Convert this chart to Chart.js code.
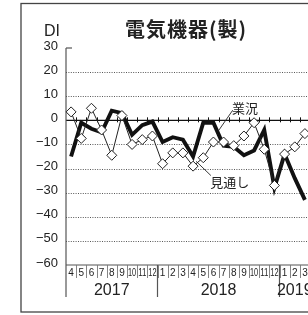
<!DOCTYPE html>
<html><head><meta charset="utf-8">
<script src="https://cdn.jsdelivr.net/npm/chart.js@4.4.1/dist/chart.umd.min.js"></script>
<style>html,body{margin:0;padding:0;overflow:hidden;background:#fff;width:308px;height:315px}canvas{display:block}</style>
</head><body>
<canvas id="c" width="320" height="315"></canvas>
<script>
const months = ['4','5','6','7','8','9','10','11','12','1','2','3','4','5','6','7','8','9','10','11','12','1','2','3'];
const yearLabels = ['2017','2018','2019'];
const yearSpans = [9,12,3];
const actual = [-15,-1,-3.5,-5,4,3,-6,-2,-0.5,-9,-7,-8,-15,-1,-1,-10.5,-11,-14.5,-12.5,-4,-28,-14,-24,-33];
const outlook = [3.5,-7.5,5,-4,-14.5,2,-10,-8,-6.5,-18,-13.5,-13.5,-19,-15.5,-9,-9,-10.5,-6.5,-1,-12,-27,-14,-11,-5.5];
const yTicks = [30,20,10,0,-10,-20,-30,-40,-50,-60];
const title = '電気機器(製)';
const unitLabel = 'DI';
const seriesNames = ['業況','見通し'];

const NUM = '"Liberation Sans", Arial, sans-serif';
const JP = '"Noto Sans CJK JP", sans-serif';

function xAt(chart, idx){
  const xs = chart.scales.x;
  const p0 = xs.getPixelForValue(0), p1 = xs.getPixelForValue(1);
  return p0 + (p1 - p0) * idx;
}

const deco = {
  id: 'deco',
  beforeDatasetsDraw(chart){
    const ctx = chart.ctx, a = chart.chartArea, ys = chart.scales.y;
    const step = xAt(chart,1) - xAt(chart,0);
    ctx.save();
    ctx.strokeStyle = '#444'; ctx.lineWidth = 0.9; ctx.setLineDash([1,1.4]);
    yTicks.forEach(v => {
      if (v === 30 || v === 0 || v === -60) return;
      const y = Math.round(ys.getPixelForValue(v)) + 0.5;
      ctx.beginPath(); ctx.moveTo(a.left, y); ctx.lineTo(a.right, y); ctx.stroke();
    });
    ctx.setLineDash([]);
    ctx.strokeStyle = '#111'; ctx.lineWidth = 1.3;
    const y0 = ys.getPixelForValue(0);
    ctx.beginPath(); ctx.moveTo(a.left, y0); ctx.lineTo(a.right, y0); ctx.stroke();
    ctx.lineWidth = 1;
    for (let k = 1; k < months.length; k++){
      const x = Math.round(a.left + step*k) + 0.5;
      ctx.beginPath(); ctx.moveTo(x, y0-3); ctx.lineTo(x, y0+2); ctx.stroke();
    }
    ctx.strokeStyle = '#555'; ctx.lineWidth = 1.2;
    const yt = ys.getPixelForValue(30);
    ctx.beginPath(); ctx.moveTo(a.left, yt); ctx.lineTo(a.left+6, yt); ctx.stroke();
    const yb = ys.getPixelForValue(-60);
    ctx.beginPath(); ctx.moveTo(a.left, yb); ctx.lineTo(a.right, yb); ctx.stroke();
    ctx.beginPath(); ctx.moveTo(a.left, yt); ctx.lineTo(a.left, yb+32); ctx.stroke();
    ctx.strokeStyle = '#777'; ctx.lineWidth = 0.9;
    for (let k = 1; k < months.length; k++){
      const x = Math.round(a.left + step*k) + 0.5;
      ctx.beginPath(); ctx.moveTo(x, yb); ctx.lineTo(x, yb+13); ctx.stroke();
    }
    ctx.strokeStyle = '#555'; ctx.lineWidth = 1.2;
    let acc = 0;
    yearSpans.forEach((n,i) => {
      acc += n;
      const x = a.left + step*acc;
      ctx.beginPath(); ctx.moveTo(x, yb); ctx.lineTo(x, yb+32); ctx.stroke();
    });
    ctx.fillStyle = '#222'; ctx.textAlign = 'center'; ctx.textBaseline = 'middle';
    ctx.font = '10px ' + NUM;
    months.forEach((m,k) => {
      const cx = xAt(chart,k);
      const w = ctx.measureText(m).width;
      const maxW = step - 2;
      ctx.save(); ctx.translate(cx, yb+8);
      if (w > maxW) ctx.scale(maxW/w, 1);
      ctx.fillText(m, 0, 0); ctx.restore();
    });
    ctx.font = '16px ' + NUM;
    acc = 0;
    yearSpans.forEach((n,i) => {
      const cx = a.left + step*(acc + n/2);
      ctx.fillText(yearLabels[i], cx, yb+26);
      acc += n;
    });
    ctx.textAlign = 'right'; ctx.font = '13px ' + NUM;
    yTicks.forEach(v => {
      const lbl = v < 0 ? '\u2212' + Math.abs(v) : String(v);
      ctx.fillText(lbl, 58, ys.getPixelForValue(v) - 2);
    });
    ctx.restore();
  },
  afterDraw(chart){
    const ctx = chart.ctx, ys = chart.scales.y;
    ctx.save();
    ctx.strokeStyle = '#444'; ctx.lineWidth = 1.3;
    ctx.strokeRect(21, 3.5, 300, 308.5);
    ctx.fillStyle = '#222'; ctx.textAlign = 'center'; ctx.textBaseline = 'alphabetic';
    ctx.font = 'bold 20px ' + JP;
    try { ctx.letterSpacing = '1px'; } catch(e) {}
    ctx.fillText(title, 186, 37);
    try { ctx.letterSpacing = '0px'; } catch(e) {}
    ctx.textAlign = 'left'; ctx.font = '16px ' + NUM;
    ctx.fillText(unitLabel, 44, 36);
    ctx.font = '13px ' + JP; ctx.textAlign = 'center'; ctx.textBaseline = 'middle';
    ctx.fillText(seriesNames[0], xAt(chart,17.1), ys.getPixelForValue(5));
    ctx.fillText(seriesNames[1], xAt(chart,15.6), ys.getPixelForValue(-25.8));
    ctx.strokeStyle = '#222'; ctx.lineWidth = 0.9;
    ctx.beginPath();
    ctx.moveTo(xAt(chart,15.9), ys.getPixelForValue(4.2));
    ctx.lineTo(xAt(chart,14.45), ys.getPixelForValue(-4.6));
    ctx.moveTo(xAt(chart,13.75), ys.getPixelForValue(-22.9));
    ctx.lineTo(xAt(chart,12.3), ys.getPixelForValue(-17));
    ctx.stroke();
    ctx.restore();
  }
};

new Chart(document.getElementById('c'), {
  type: 'line',
  data: {
    labels: months,
    datasets: [
      { label: seriesNames[1], data: outlook, borderColor: '#222', borderWidth: 1,
        pointStyle: 'rectRot', pointRadius: 5, pointBackgroundColor: '#fff',
        pointBorderColor: '#222', pointBorderWidth: 1, order: 1, tension: 0 },
      { label: seriesNames[0], data: actual, borderColor: '#111', borderWidth: 3.9,
        pointRadius: 0, borderJoinStyle: 'miter', order: 2, tension: 0 }
    ]
  },
  options: {
    responsive: false, animation: false, devicePixelRatio: 1,
    layout: { padding: { left: 66, top: 48, right: 10, bottom: 50 } },
    plugins: { legend: { display: false }, title: { display: false }, tooltip: { enabled: false } },
    scales: {
      x: { display: false, offset: true },
      y: { display: false, min: -60, max: 30 }
    }
  },
  plugins: [deco]
});
</script>
</body></html>
